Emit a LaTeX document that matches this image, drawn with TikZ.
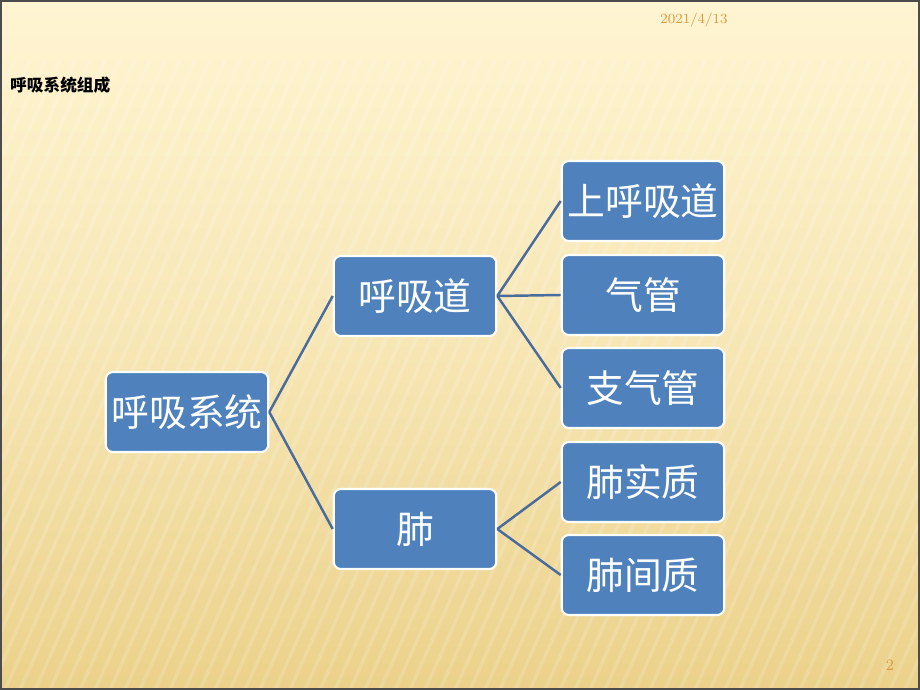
\documentclass[tikz,border=0pt]{standalone}
\usepackage{fontspec}
\newfontfamily\cjk{Noto Sans CJK SC}
\definecolor{boxblue}{HTML}{4F81BD}
\definecolor{linkblue}{HTML}{4A6B9E}
\definecolor{datecol}{HTML}{D99A3E}
\definecolor{paper}{HTML}{FFF5D2}
\definecolor{sand}{HTML}{EBD18A}
\tikzset{
  box/.style={draw=white, line width=1.2pt, fill=boxblue, rounded corners=4pt,
    minimum width=3.25cm, minimum height=1.6cm, inner sep=0pt,
    text=white, font=\cjk\fontsize{21.5}{25}\selectfont},
  link/.style={linkblue, line width=1.4pt}
}
\begin{document}
\begin{tikzpicture}[x=0.02cm, y=-0.02cm]
    \useasboundingbox (0,0) rectangle (920,690);
    \shade[top color=paper, bottom color=sand, middle color=paper!60!sand] (0,0) rectangle (920,690);% slide background
    \foreach \x in {-400,-385,...,920}{% faint stripes
      \draw[white, opacity=0.15, line width=2pt] (\x,690) -- (\x+280,60);}
    \draw[gray!60!black, line width=1.5pt] (1,1) rectangle (919,689);
    \node[text=datecol, font=\fontsize{8}{10}\selectfont] (date) at (694,20) {2021/4/13};
    \node[anchor=west, font=\cjk\bfseries\fontsize{9.5}{11}\selectfont] (title) at (4,85) {呼吸系统组成};
    \node[text=datecol, font=\fontsize{9}{11}\selectfont] (page) at (890,665) {2};
    % tree
    \node[box] (sys) at (187,412) {呼吸系统};
    \node[box] (tract) at (415,296) {呼吸道};
    \node[box] (lung) at (415,529) {肺};
    \node[box] (upper) at (643,201) {上呼吸道};
    \node[box] (trachea) at (643,295) {气管};
    \node[box] (bronchi) at (643,388) {支气管};
    \node[box] (paren) at (643,482) {肺实质};
    \node[box] (inter) at (643,575) {肺间质};
    \foreach \a/\b in {sys/tract, sys/lung, tract/upper, tract/trachea,
      tract/bronchi, lung/paren, lung/inter}
      \draw[link] (\a.east) -- (\b.west);
\end{tikzpicture}
\end{document}
